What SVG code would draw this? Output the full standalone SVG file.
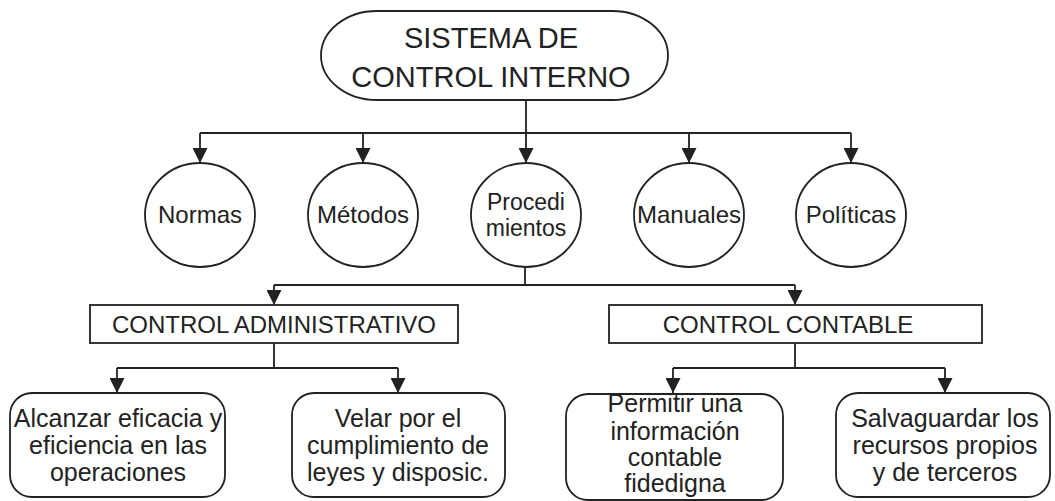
<svg xmlns="http://www.w3.org/2000/svg" width="1055" height="501" viewBox="0 0 1055 501">
<defs>
<style>
.shape{fill:#fff;stroke:#222;stroke-width:1.8}
.line{fill:none;stroke:#222;stroke-width:1.8}
text{font-family:"Liberation Sans",Arial,sans-serif;fill:#222;text-anchor:middle}
.t23{font-size:23px}
.t24{font-size:24px}
.t25{font-size:25px}
.t29{font-size:29px}
</style>
<marker id="arr" markerUnits="userSpaceOnUse" markerWidth="15" markerHeight="15" viewBox="0 0 15 15" refX="15" refY="7.5" orient="auto">
<path d="M0,0 L15,7.5 L0,15 z" fill="#222"/>
</marker>
</defs>
<rect width="1055" height="501" fill="#fff"/>
<g id="connectors">
<path class="line" d="M526,100 V133 M200,133 H851"/>
<path class="line" marker-end="url(#arr)" d="M200,133 V163"/>
<path class="line" marker-end="url(#arr)" d="M363,133 V163"/>
<path class="line" marker-end="url(#arr)" d="M526,133 V163"/>
<path class="line" marker-end="url(#arr)" d="M689,133 V163"/>
<path class="line" marker-end="url(#arr)" d="M851,133 V163"/>
<path class="line" d="M525,267 V285 M274,285 H795"/>
<path class="line" marker-end="url(#arr)" d="M274,285 V305"/>
<path class="line" marker-end="url(#arr)" d="M795,285 V305"/>
<path class="line" d="M274,343 V368 M117,368 H398"/>
<path class="line" marker-end="url(#arr)" d="M117,368 V393"/>
<path class="line" marker-end="url(#arr)" d="M398,368 V393"/>
<path class="line" d="M795,343 V368 M673,368 H945"/>
<path class="line" marker-end="url(#arr)" d="M673,368 V393"/>
<path class="line" marker-end="url(#arr)" d="M945,368 V393"/>
</g>
<g id="sistema">
<rect class="shape" x="321" y="11" width="347" height="89" rx="56" ry="44.5"/>
<text class="t29" x="491" y="48">SISTEMA DE</text>
<text class="t29" x="491" y="87">CONTROL INTERNO</text>
</g>
<g id="normas">
<ellipse class="shape" cx="200" cy="215" rx="55" ry="52"/>
<text class="t24" x="200" y="223">Normas</text>
</g>
<g id="metodos">
<ellipse class="shape" cx="363" cy="215" rx="55" ry="52"/>
<text class="t24" x="363" y="223">Métodos</text>
</g>
<g id="procedimientos">
<ellipse class="shape" cx="526" cy="215" rx="55" ry="52"/>
<text class="t23" x="526" y="210">Procedi</text>
<text class="t23" x="526" y="236">mientos</text>
</g>
<g id="manuales">
<ellipse class="shape" cx="689" cy="215" rx="55" ry="52"/>
<text class="t24" x="689" y="223">Manuales</text>
</g>
<g id="politicas">
<ellipse class="shape" cx="851" cy="215" rx="55" ry="52"/>
<text class="t24" x="851" y="223">Políticas</text>
</g>
<g id="control-administrativo">
<rect class="shape" x="90" y="305" width="368" height="38"/>
<text class="t24" x="274" y="333">CONTROL ADMINISTRATIVO</text>
</g>
<g id="control-contable">
<rect class="shape" x="609" y="305" width="373" height="38"/>
<text class="t24" x="788" y="333">CONTROL CONTABLE</text>
</g>
<g id="alcanzar">
<rect class="shape" x="10" y="393" width="215" height="104" rx="22" ry="22"/>
<text class="t25" x="118" y="427">Alcanzar eficacia y</text>
<text class="t25" x="118" y="454">eficiencia en las</text>
<text class="t25" x="118" y="481">operaciones</text>
</g>
<g id="velar">
<rect class="shape" x="292" y="393" width="213" height="104" rx="22" ry="22"/>
<text class="t25" x="398" y="427">Velar por el</text>
<text class="t25" x="398" y="454">cumplimiento de</text>
<text class="t25" x="398" y="481">leyes y disposic.</text>
</g>
<g id="permitir">
<rect class="shape" x="566" y="394" width="217" height="106" rx="22" ry="22"/>
<text class="t25" x="675" y="412">Permitir una</text>
<text class="t25" x="675" y="440">información</text>
<text class="t25" x="675" y="466">contable</text>
<text class="t25" x="675" y="492">fidedigna</text>
</g>
<g id="salvaguardar">
<rect class="shape" x="836" y="393" width="214" height="104" rx="22" ry="22"/>
<text class="t25" x="945" y="427">Salvaguardar los</text>
<text class="t25" x="945" y="454">recursos propios</text>
<text class="t25" x="945" y="481">y de terceros</text>
</g>
</svg>
